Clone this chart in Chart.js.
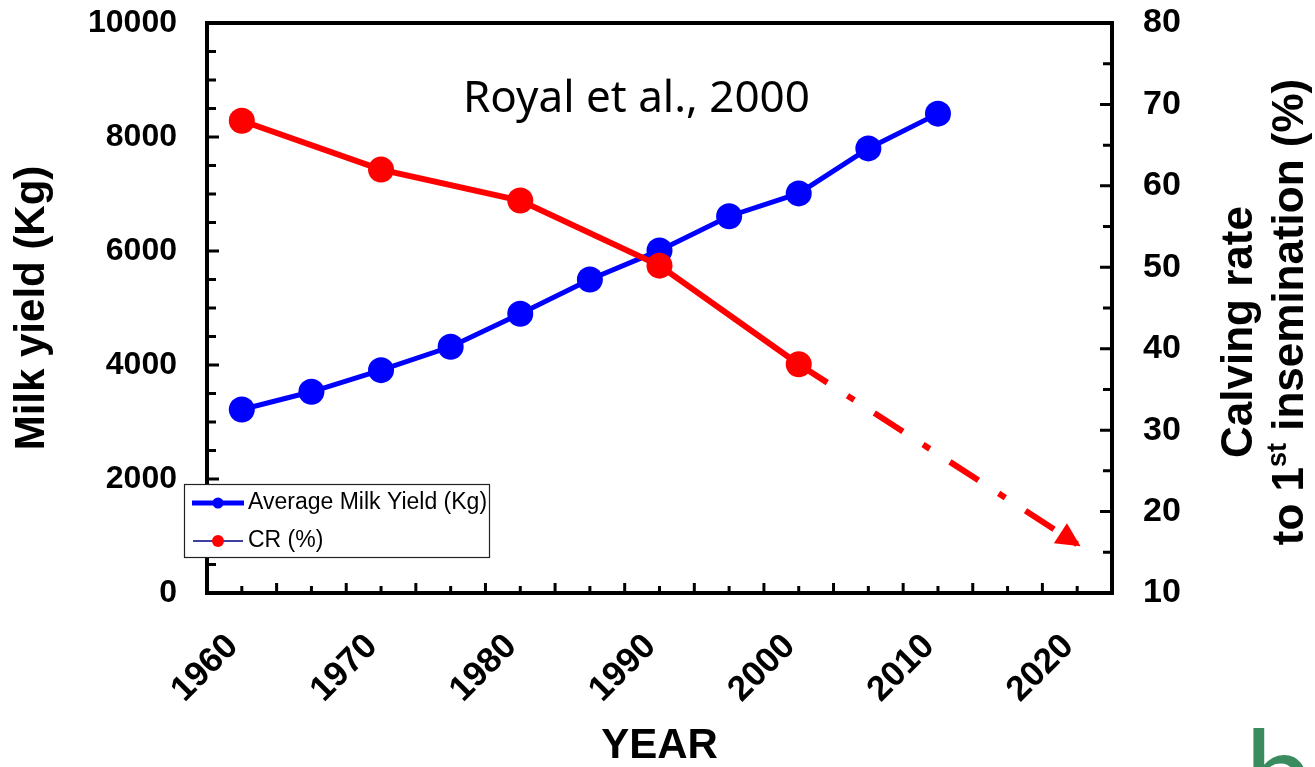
<!DOCTYPE html>
<html>
<head>
<meta charset="utf-8">
<script src="https://cdn.jsdelivr.net/npm/chart.js@4.4.0/dist/chart.umd.min.js"></script>
<style>
  html, body { margin: 0; padding: 0; background: #fff; overflow: hidden; }
  #wrap { position: relative; width: 1315px; height: 767px; overflow: hidden; }
  #logo { position: absolute; left: 1245px; top: 710px; font: 400 120px Lato, "Open Sans", sans-serif; color: #3a8c5e; line-height: 1; }
</style>
</head>
<body>
<div id="wrap">
  <canvas id="milkChart" width="1315" height="767"></canvas>
  <div id="logo">b</div>
</div>
<script>
// values
const milkYears = [1960, 1965, 1970, 1975, 1980, 1985, 1990, 1995, 2000, 2005, 2010];
const milkYield = [3220, 3530, 3910, 4320, 4900, 5500, 6010, 6610, 7010, 7800, 8410];
const crYears = [1960, 1970, 1980, 1990, 2000];
const crValues = [68.0, 62.0, 58.2, 50.2, 38.1];
const projYears = [2000, 2020];
const projValues = [38.1, 16.0];
const xTickLabels = [1960, 1970, 1980, 1990, 2000, 2010, 2020];
const leftTickLabels = [0, 2000, 4000, 6000, 8000, 10000];
const rightTickLabels = [10, 20, 30, 40, 50, 60, 70, 80];

const FONT = '"Liberation Sans", Arial, sans-serif';
const BLUE = '#0000ff';
const RED = '#ff0000';

function pts(xs, ys) {
    return xs.map((x, i) => ({ x: x, y: ys[i] }));
}

// fixed box sizes so the plot area sits where the original one does
function fixBox(size) {
    return s => {
        if (s.isHorizontal()) s.height = size; else s.width = size;
        s.paddingTop = 0;
        s.paddingBottom = 0;
        s.paddingLeft = 0;
        s.paddingRight = 0;
    };
}

// frame with inward tick marks
const frameTicks = {
    id: 'frameTicks',
    beforeDatasetsDraw(chart) {
        const { ctx, chartArea: a, scales } = chart;
        ctx.save();
        ctx.strokeStyle = '#000';
        ctx.lineWidth = 3;
        ctx.beginPath();
        scales.x.ticks.forEach(t => {
            if (t.value <= scales.x.min || t.value >= scales.x.max) return;
            const px = scales.x.getPixelForValue(t.value);
            const len = (t.value % 5 === 2.5) ? 10 : 7;
            ctx.moveTo(px, a.bottom);
            ctx.lineTo(px, a.bottom - len);
        });
        scales.y.ticks.forEach(t => {
            if (t.value <= scales.y.min || t.value >= scales.y.max) return;
            const py = scales.y.getPixelForValue(t.value);
            const len = (t.value % 2000 === 0) ? 12 : 9;
            ctx.moveTo(a.left, py);
            ctx.lineTo(a.left + len, py);
        });
        scales.y1.ticks.forEach(t => {
            if (t.value <= scales.y1.min || t.value >= scales.y1.max) return;
            const py = scales.y1.getPixelForValue(t.value);
            const len = (t.value % 10 === 0) ? 12 : 9;
            ctx.moveTo(a.right, py);
            ctx.lineTo(a.right - len, py);
        });
        ctx.stroke();
        ctx.lineWidth = 4;
        ctx.strokeRect(a.left, a.top, a.right - a.left, a.bottom - a.top);
        ctx.restore();
    }
};

// arrow head at the end of the projection
const arrowHead = {
    id: 'arrowHead',
    afterDatasetsDraw(chart) {
        const meta = chart.getDatasetMeta(2);
        const p0 = meta.data[0], p1 = meta.data[meta.data.length - 1];
        const dx = p1.x - p0.x, dy = p1.y - p0.y;
        const d = Math.sqrt(dx * dx + dy * dy);
        const ux = dx / d, uy = dy / d;
        const tipX = p1.x + ux * 4, tipY = p1.y + uy * 4;
        const bx = tipX - ux * 24, by = tipY - uy * 24;
        const ctx = chart.ctx;
        ctx.save();
        ctx.fillStyle = RED;
        ctx.beginPath();
        ctx.moveTo(tipX, tipY);
        ctx.lineTo(bx - uy * 12, by + ux * 12);
        ctx.lineTo(bx + uy * 12, by - ux * 12);
        ctx.closePath();
        ctx.fill();
        ctx.restore();
    }
};

// legend box, citation and right axis title
const extras = {
    id: 'extras',
    afterDraw(chart) {
        const ctx = chart.ctx;
        ctx.save();

        // citation
        ctx.fillStyle = '#000';
        ctx.font = '44px "Comic Sans MS", "Noto Sans", sans-serif';
        ctx.textAlign = 'left';
        ctx.textBaseline = 'alphabetic';
        ctx.fillText('Royal et al., 2000', 463, 112);

        // legend
        ctx.fillStyle = '#fff';
        ctx.fillRect(184, 484, 305, 73);
        ctx.strokeStyle = '#222';
        ctx.lineWidth = 1.2;
        ctx.strokeRect(184.5, 484.5, 305, 73);

        ctx.strokeStyle = BLUE;
        ctx.lineWidth = 5;
        ctx.beginPath();
        ctx.moveTo(192, 503);
        ctx.lineTo(244, 503);
        ctx.stroke();
        ctx.fillStyle = BLUE;
        ctx.beginPath();
        ctx.arc(218, 503, 5.5, 0, Math.PI * 2);
        ctx.fill();

        ctx.strokeStyle = '#000080';
        ctx.lineWidth = 1.5;
        ctx.beginPath();
        ctx.moveTo(193, 541);
        ctx.lineTo(243, 541);
        ctx.stroke();
        ctx.fillStyle = RED;
        ctx.beginPath();
        ctx.arc(218, 541, 6, 0, Math.PI * 2);
        ctx.fill();

        ctx.fillStyle = '#000';
        ctx.font = '23px ' + FONT;
        ctx.textBaseline = 'middle';
        ctx.fillText('Average Milk Yield (Kg)', 248, 503);
        ctx.fillText('CR (%)', 248, 541);

        // right axis title, two lines reading upwards
        const big = 'bold 44px ' + FONT;
        const small = 'bold 27px ' + FONT;
        ctx.translate(1240, 332);
        ctx.rotate(-Math.PI / 2);
        ctx.font = big;
        ctx.textAlign = 'center';
        ctx.fillText('Calving rate', 0, 0);

        ctx.translate(20, 51);
        ctx.textAlign = 'left';
        const partA = 'to 1', partB = 'st', partC = ' insemination (%)';
        ctx.font = big;
        const wA = ctx.measureText(partA).width;
        const wC = ctx.measureText(partC).width;
        ctx.font = small;
        const wB = ctx.measureText(partB).width;
        let x = -(wA + wB + wC) / 2;
        ctx.font = big;
        ctx.fillText(partA, x, 0);
        x += wA;
        ctx.font = small;
        ctx.fillText(partB, x, -12);
        x += wB;
        ctx.font = big;
        ctx.fillText(partC, x, 0);
        ctx.restore();
    }
};

const tickFont = { family: FONT, size: 32, weight: 'bold' };
const titleFont = { family: FONT, size: 42, weight: 'bold', lineHeight: 1 };

new Chart(document.getElementById('milkChart'), {
    type: 'line',
    data: {
        datasets: [{
            label: 'Average Milk Yield (Kg)',
            data: pts(milkYears, milkYield),
            yAxisID: 'y',
            borderColor: BLUE,
            backgroundColor: BLUE,
            borderWidth: 5,
            pointRadius: 13,
            pointBorderWidth: 0,
            order: 1
        }, {
            label: 'CR (%)',
            data: pts(crYears, crValues),
            yAxisID: 'y1',
            borderColor: RED,
            backgroundColor: RED,
            borderWidth: 6,
            pointRadius: 13,
            pointBorderWidth: 0,
            order: 0
        }, {
            label: 'CR projection',
            data: pts(projYears, projValues),
            yAxisID: 'y1',
            borderColor: RED,
            borderWidth: 6,
            borderDash: [34, 24, 8, 24],
            borderCapStyle: 'butt',
            pointRadius: 0,
            order: 2
        }]
    },
    options: {
        responsive: false,
        animation: false,
        layout: { padding: { top: 23, left: 0, right: 0, bottom: 0 } },
        plugins: {
            legend: { display: false },
            tooltip: { enabled: false }
        },
        scales: {
            x: {
                type: 'linear',
                min: 1957.5,
                max: 2022.5,
                grid: { display: false, drawTicks: false },
                border: { display: false },
                ticks: {
                    stepSize: 2.5,
                    autoSkip: false,
                    minRotation: 45,
                    maxRotation: 45,
                    padding: 33,
                    labelOffset: -9,
                    color: '#000',
                    font: { family: FONT, size: 35, weight: 'bold' },
                    callback: v => xTickLabels.includes(v) ? String(v) : ''
                },
                title: { display: true, text: 'YEAR', color: '#000', font: titleFont, padding: { top: 0, bottom: 0 } },
                afterFit: fixBox(174)
            },
            y: {
                position: 'left',
                min: 0,
                max: 10000,
                grid: { display: false, drawTicks: false },
                border: { display: false },
                ticks: {
                    stepSize: 500,
                    autoSkip: false,
                    padding: 30,
                    color: '#000',
                    font: tickFont,
                    callback: v => leftTickLabels.includes(v) ? String(v) : ''
                },
                title: { display: true, text: 'Milk yield (Kg)', color: '#000', font: titleFont, padding: { top: 11, bottom: 0 } },
                afterFit: fixBox(207)
            },
            y1: {
                position: 'right',
                min: 10,
                max: 80,
                grid: { display: false, drawTicks: false },
                border: { display: false },
                ticks: {
                    stepSize: 5,
                    autoSkip: false,
                    padding: 31,
                    color: '#000',
                    font: { family: FONT, size: 34, weight: 'bold' },
                    callback: v => rightTickLabels.includes(v) ? String(v) : ''
                },
                afterFit: fixBox(203)
            }
        }
    },
    plugins: [frameTicks, arrowHead, extras]
});
</script>
</body>
</html>
